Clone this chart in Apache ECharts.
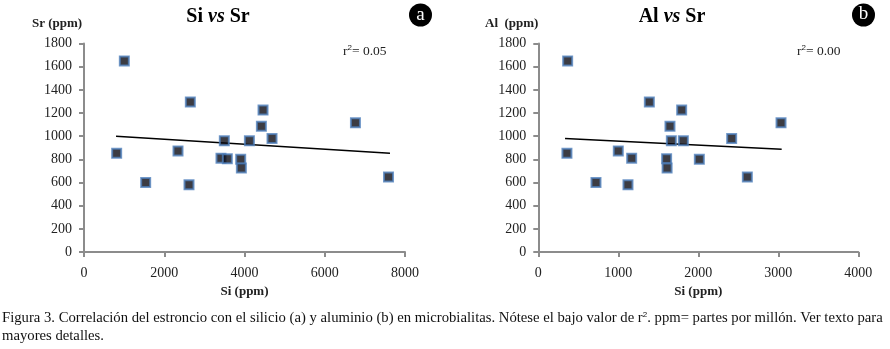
<!DOCTYPE html>
<html><head><meta charset="utf-8">
<script src="https://cdn.jsdelivr.net/npm/echarts@6/dist/echarts.min.js"></script>
<style>html,body{margin:0;padding:0;background:#fff}#c{width:890px;height:349px}</style>
</head><body><div id="c"></div>
<script>
// Chart a: Si vs Sr
const siA = [814, 1005, 1537, 2343, 2650, 2617, 3414, 3497, 3572, 3905, 3922, 4122, 4421, 4462, 4686, 6765, 7589];
const srA = [852, 1650, 600, 873, 1295, 580, 810, 960, 805, 800, 725, 960, 1085, 1225, 980, 1115, 648];
const trendA = [[798, 999], [7626, 852]];
// Chart b: Al vs Sr
const alB = [367, 1388, 1792, 1646, 1663, 1813, 2417, 3034, 358, 1000, 1167, 1604, 1610, 2013, 2613, 721, 1121];
const srB = [1650, 1295, 1225, 1085, 960, 960, 980, 1115, 852, 873, 810, 805, 725, 800, 648, 600, 580];
const trendB = [[334, 980], [3042, 887]];
const yTicks = [0, 1800, 200];
const xTicksA = [0, 8000, 2000];
const xTicksB = [0, 4000, 1000];

const serif = '"Liberation Serif","Times New Roman",serif';
const axisStyle = {
  axisLine: {show: true, lineStyle: {color: '#8c8c8c', width: 2}},
  axisTick: {show: true, inside: false, length: 5, lineStyle: {color: '#8c8c8c', width: 2}},
  splitLine: {show: false}
};
const lbl = {fontFamily: serif, fontSize: 14, color: '#222', formatter: v => String(v)};
function xAx(idx, t) {
  return Object.assign({type: 'value', gridIndex: idx, min: t[0], max: t[1], interval: t[2],
    name: 'Si (ppm)', nameLocation: 'middle', nameGap: 32,
    nameTextStyle: {fontFamily: serif, fontSize: 13, fontWeight: 'bold', color: '#222'}}, axisStyle,
    {axisLabel: Object.assign({}, lbl, {margin: 14})});
}
function yAx(idx) {
  return Object.assign({type: 'value', gridIndex: idx, min: yTicks[0], max: yTicks[1], interval: yTicks[2]}, axisStyle,
    {axisLabel: Object.assign({}, lbl, {margin: 12})});
}
const marker = {symbol: 'rect', symbolSize: 9, itemStyle: {color: '#0b0b14', borderColor: '#4f80bb', borderWidth: 2}};
const titleRich = {
  b: {fontFamily: serif, fontSize: 20, fontWeight: 'bold', color: '#000'},
  i: {fontFamily: serif, fontSize: 20, fontWeight: 'bold', fontStyle: 'italic', color: '#000'}
};
const supRich = {s: {fontSize: 8, verticalAlign: 'top', padding: [0, 0, 6, 0]}};
const chart = echarts.init(document.getElementById('c'), null, {renderer: 'canvas'});
chart.setOption({
  animation: false,
  grid: [
    {left: 84, top: 43.5, width: 321, height: 208.5},
    {left: 538.3, top: 43.5, width: 320, height: 208.5}
  ],
  xAxis: [xAx(0, xTicksA), xAx(1, xTicksB)],
  yAxis: [yAx(0), yAx(1)],
  series: [
    Object.assign({type: 'scatter', xAxisIndex: 0, yAxisIndex: 0, data: siA.map((v, i) => [v, srA[i]]), z: 3}, marker),
    {type: 'line', xAxisIndex: 0, yAxisIndex: 0, data: trendA, symbol: 'none', lineStyle: {color: '#000', width: 1.5}, z: 2},
    Object.assign({type: 'scatter', xAxisIndex: 1, yAxisIndex: 1, data: alB.map((v, i) => [v, srB[i]]), z: 3}, marker),
    {type: 'line', xAxisIndex: 1, yAxisIndex: 1, data: trendB, symbol: 'none', lineStyle: {color: '#000', width: 1.5}, z: 2}
  ],
  graphic: [
    {type: 'text', x: 218, y: 17, style: {text: '{b|Si }{i|vs}{b| Sr}', rich: titleRich, align: 'center', verticalAlign: 'middle'}},
    {type: 'text', x: 672, y: 17, style: {text: '{b|Al }{i|vs}{b| Sr}', rich: titleRich, align: 'center', verticalAlign: 'middle'}},
    {type: 'text', x: 32, y: 24, style: {text: 'Sr (ppm)', fontFamily: serif, fontSize: 13, fontWeight: 'bold', fill: '#222', verticalAlign: 'middle'}},
    {type: 'text', x: 485, y: 24, style: {text: 'Al  (ppm)', fontFamily: serif, fontSize: 13, fontWeight: 'bold', fill: '#222', verticalAlign: 'middle'}},
    {type: 'text', x: 343, y: 51, style: {text: 'r{s|2}= 0.05', rich: supRich, fontFamily: serif, fontSize: 13.5, fill: '#222', verticalAlign: 'middle'}},
    {type: 'text', x: 797, y: 51, style: {text: 'r{s|2}= 0.00', rich: supRich, fontFamily: serif, fontSize: 13.5, fill: '#222', verticalAlign: 'middle'}},
    {type: 'circle', shape: {cx: 420.5, cy: 15, r: 11.5}, style: {fill: '#000'}},
    {type: 'text', x: 420.5, y: 15, style: {text: 'a', fontFamily: serif, fontSize: 19, fill: '#fff', align: 'center', verticalAlign: 'middle'}},
    {type: 'circle', shape: {cx: 863.5, cy: 15, r: 11.5}, style: {fill: '#000'}},
    {type: 'text', x: 863.5, y: 14, style: {text: 'b', fontFamily: serif, fontSize: 19, fill: '#fff', align: 'center', verticalAlign: 'middle'}},
    {type: 'text', x: 2, y: 318, style: {text: 'Figura 3. Correlación del estroncio con el silicio (a) y aluminio (b) en microbialitas. Nótese el bajo valor de r{s|2}. ppm= partes por millón. Ver texto para',
      rich: supRich, fontFamily: serif, fontSize: 14.7, fill: '#111', verticalAlign: 'middle'}},
    {type: 'text', x: 2, y: 336, style: {text: 'mayores detalles.', fontFamily: serif, fontSize: 14.7, fill: '#111', verticalAlign: 'middle'}}
  ]
});
</script></body></html>
